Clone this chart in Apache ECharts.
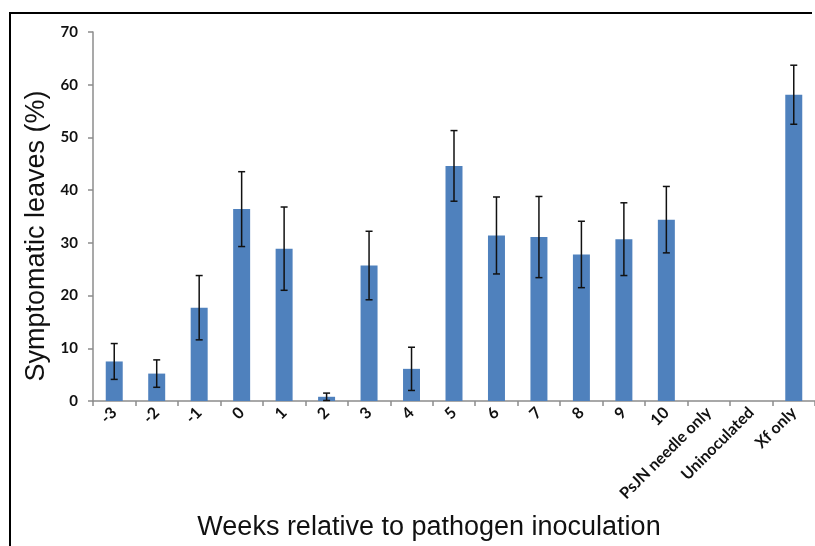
<!DOCTYPE html>
<html>
<head>
<meta charset="utf-8">
<script src="https://cdn.jsdelivr.net/npm/echarts@6/dist/echarts.min.js"></script>
<style>
  html, body { margin: 0; padding: 0; background: #ffffff; }
  #chart { width: 815px; height: 546px; }
</style>
</head>
<body>
<div id="chart"></div>
<script>
// Weeks relative to inoculation, plus control groups
const categories = ['-3', '-2', '-1', '0', '1', '2', '3', '4', '5', '6', '7', '8', '9', '10',
  'PsJN needle only', 'Uninoculated', 'Xf only'];
// Mean percentage of symptomatic leaves
const meanValues = [7.5, 5.2, 17.7, 36.4, 28.9, 0.8, 25.7, 6.1, 44.6, 31.4, 31.1, 27.8, 30.7, 34.4, 0, 0, 58.1];
// Standard error for each group (controls without visible error bars are null)
const errorValues = [3.4, 2.6, 6.1, 7.1, 7.9, 0.7, 6.5, 4.1, 6.7, 7.3, 7.7, 6.3, 6.9, 6.3, null, null, 5.6];
// Y-axis scale
const yMin = 0;
const yMax = 70;
const yStep = 10;

const errorData = [];
categories.forEach(function (c, i) {
  if (errorValues[i] != null) {
    errorData.push([i, meanValues[i] - errorValues[i], meanValues[i] + errorValues[i]]);
  }
});

const chart = echarts.init(document.getElementById('chart'));

const labelFont = 'Lato, "Open Sans", "DejaVu Sans", sans-serif';
const titleFont = '"Liberation Sans", Arial, sans-serif';

chart.setOption({
  animation: false,
  backgroundColor: '#ffffff',
  grid: { left: 93, top: 32, right: -7, bottom: 145, containLabel: false },
  xAxis: {
    type: 'category',
    data: categories,
    axisLine: { lineStyle: { color: '#8c8c8c', width: 1.5 } },
    axisTick: { show: true, length: 5, lineStyle: { color: '#8c8c8c', width: 1.5 } },
    axisLabel: {
      interval: 0,
      rotate: 45,
      margin: 9,
      color: '#111111',
      fontFamily: labelFont,
      fontWeight: 'bold',
      fontSize: 16
    },
    splitLine: { show: false }
  },
  yAxis: {
    type: 'value',
    min: yMin,
    max: yMax,
    interval: yStep,
    axisLine: { show: true, lineStyle: { color: '#8c8c8c', width: 1.5 } },
    axisTick: { show: true, length: 5, lineStyle: { color: '#8c8c8c', width: 1.5 } },
    axisLabel: {
      margin: 15,
      color: '#111111',
      fontFamily: labelFont,
      fontWeight: 'bold',
      fontSize: 15
    },
    splitLine: { show: false }
  },
  series: [
    {
      type: 'bar',
      data: meanValues,
      barWidth: '40%',
      itemStyle: { color: '#4f81bd' },
      z: 2
    },
    {
      type: 'custom',
      data: errorData,
      z: 3,
      renderItem: function (params, api) {
        const idx = api.value(0);
        const lo = api.coord([idx, api.value(1)]);
        const hi = api.coord([idx, api.value(2)]);
        const half = 3.5;
        const style = { stroke: '#111111', lineWidth: 1.5 };
        return {
          type: 'group',
          children: [
            { type: 'line', shape: { x1: lo[0], y1: lo[1], x2: hi[0], y2: hi[1] }, style: style },
            { type: 'line', shape: { x1: hi[0] - half, y1: hi[1], x2: hi[0] + half, y2: hi[1] }, style: style },
            { type: 'line', shape: { x1: lo[0] - half, y1: lo[1], x2: lo[0] + half, y2: lo[1] }, style: style }
          ]
        };
      }
    }
  ],
  graphic: [
    {
      type: 'polyline',
      shape: { points: [[10, 546], [10, 13], [812, 13]] },
      style: { stroke: '#000000', lineWidth: 2, fill: null },
      silent: true
    },
    {
      type: 'text',
      x: 37,
      y: 236,
      rotation: Math.PI / 2,
      style: {
        text: 'Symptomatic leaves (%)',
        fontFamily: titleFont,
        fontSize: 27,
        fill: '#111111',
        align: 'center',
        verticalAlign: 'middle'
      }
    },
    {
      type: 'text',
      x: 429,
      y: 528,
      style: {
        text: 'Weeks relative to pathogen inoculation',
        fontFamily: titleFont,
        fontSize: 27,
        fill: '#111111',
        align: 'center',
        verticalAlign: 'middle'
      }
    }
  ]
});
</script>
</body>
</html>
